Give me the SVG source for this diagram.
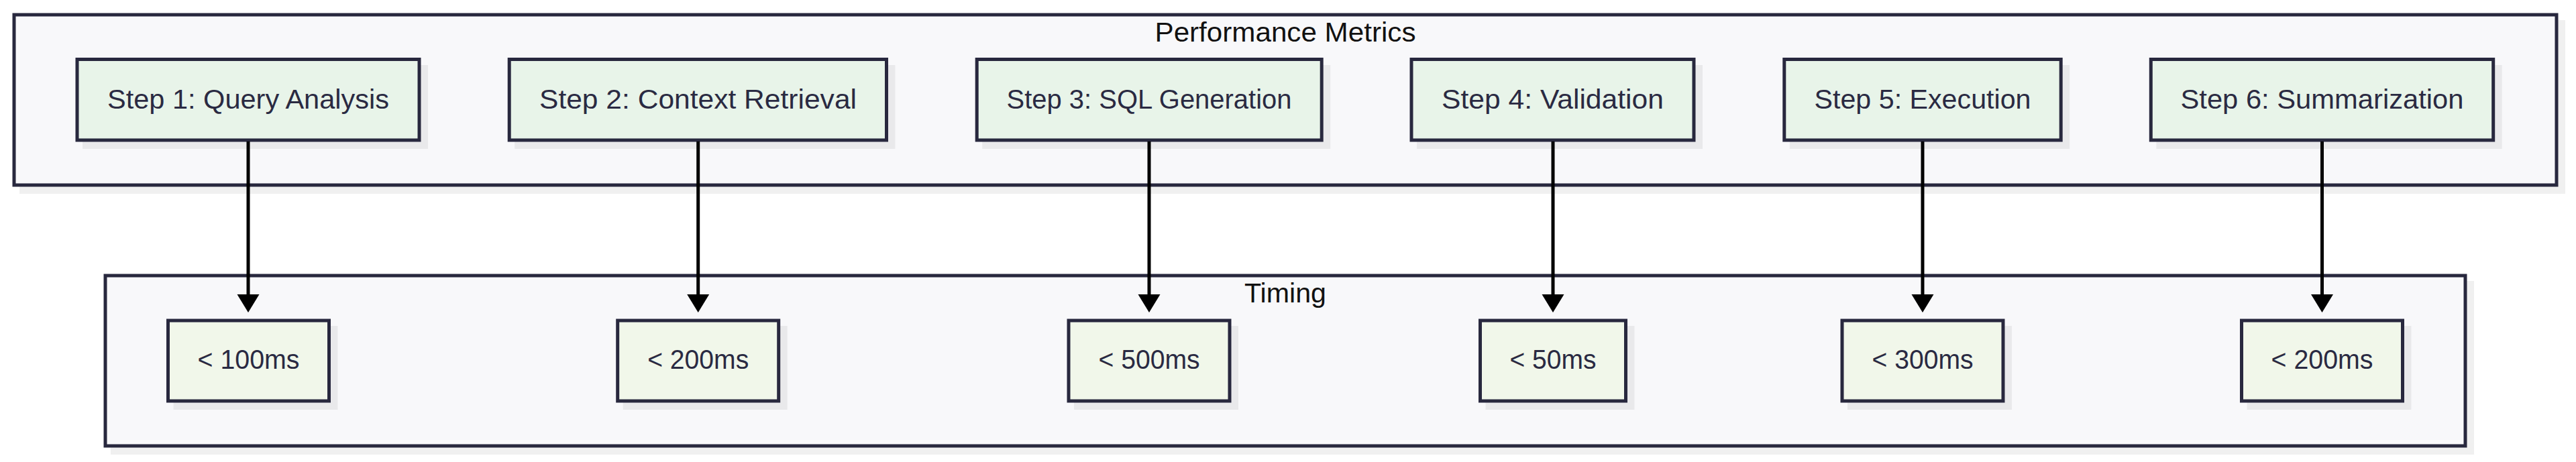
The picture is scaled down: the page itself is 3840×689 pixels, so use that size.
<svg xmlns="http://www.w3.org/2000/svg" width="3840" height="689" viewBox="0 0 3840 689">
<defs>
<style>
.cl{fill:#f8f8fa;stroke:#28283e;stroke-width:5}
.sh{fill:#000;fill-opacity:0.06}
.n1{fill:#e8f4e9;stroke:#28283e;stroke-width:5}
.n2{fill:#f1f7ea;stroke:#28283e;stroke-width:5}
.t{font-family:"Liberation Sans",Arial,sans-serif;font-size:40px;fill:#2a2a42;text-anchor:middle}
.ttl{font-family:"Liberation Sans",Arial,sans-serif;font-size:40px;fill:#111;text-anchor:middle}
.e{stroke:#000;stroke-width:5;fill:none}
.ah{fill:#000}
</style>
</defs>
<rect width="3840" height="689" fill="#fff"/>
<g id="cluster-performance">
<rect class="sh" x="29" y="30" width="3795" height="259"/>
<rect class="cl" x="21" y="22" width="3790" height="254"/>
<text class="ttl" x="1916" y="62" textLength="389" lengthAdjust="spacingAndGlyphs">Performance Metrics</text>
</g>
<g id="cluster-timing">
<rect class="sh" x="165" y="419" width="3523" height="259"/>
<rect class="cl" x="157" y="411" width="3518" height="254"/>
<text class="ttl" x="1916" y="451" textLength="122" lengthAdjust="spacingAndGlyphs">Timing</text>
</g>
<g id="step1">
<rect class="sh" x="123" y="97" width="515" height="125"/>
<rect class="n1" x="115" y="88.5" width="510" height="120.5"/>
<text class="t" x="370" y="162" textLength="420" lengthAdjust="spacingAndGlyphs">Step 1: Query Analysis</text>
</g>
<g id="step2">
<rect class="sh" x="767.2" y="97" width="567.3" height="125"/>
<rect class="n1" x="759.2" y="88.5" width="562.3" height="120.5"/>
<text class="t" x="1040.5" y="162" textLength="473" lengthAdjust="spacingAndGlyphs">Step 2: Context Retrieval</text>
</g>
<g id="step3">
<rect class="sh" x="1464.2" y="97" width="519" height="125"/>
<rect class="n1" x="1456.2" y="88.5" width="514" height="120.5"/>
<text class="t" x="1713" y="162" textLength="425" lengthAdjust="spacingAndGlyphs">Step 3: SQL Generation</text>
</g>
<g id="step4">
<rect class="sh" x="2112" y="97" width="426" height="125"/>
<rect class="n1" x="2104" y="88.5" width="421" height="120.5"/>
<text class="t" x="2314.5" y="162" textLength="331" lengthAdjust="spacingAndGlyphs">Step 4: Validation</text>
</g>
<g id="step5">
<rect class="sh" x="2667.8" y="97" width="417.4" height="125"/>
<rect class="n1" x="2659.8" y="88.5" width="412.4" height="120.5"/>
<text class="t" x="2866" y="162" textLength="323" lengthAdjust="spacingAndGlyphs">Step 5: Execution</text>
</g>
<g id="step6">
<rect class="sh" x="3214.3" y="97" width="515.4" height="125"/>
<rect class="n1" x="3206.3" y="88.5" width="510.4" height="120.5"/>
<text class="t" x="3461.5" y="162" textLength="422" lengthAdjust="spacingAndGlyphs">Step 6: Summarization</text>
</g>
<g id="time1">
<rect class="sh" x="258.5" y="486" width="245" height="125"/>
<rect class="n2" x="250.5" y="478" width="240" height="120"/>
<text class="t" x="370.5" y="550" textLength="152" lengthAdjust="spacingAndGlyphs">&lt; 100ms</text>
</g>
<g id="time2">
<rect class="sh" x="928.7" y="486" width="245" height="125"/>
<rect class="n2" x="920.7" y="478" width="240" height="120"/>
<text class="t" x="1040.7" y="550" textLength="151" lengthAdjust="spacingAndGlyphs">&lt; 200ms</text>
</g>
<g id="time3">
<rect class="sh" x="1601" y="486" width="245" height="125"/>
<rect class="n2" x="1593" y="478" width="240" height="120"/>
<text class="t" x="1713" y="550" textLength="151" lengthAdjust="spacingAndGlyphs">&lt; 500ms</text>
</g>
<g id="time4">
<rect class="sh" x="2214.5" y="486" width="222" height="125"/>
<rect class="n2" x="2206.5" y="478" width="217" height="120"/>
<text class="t" x="2315" y="550" textLength="129" lengthAdjust="spacingAndGlyphs">&lt; 50ms</text>
</g>
<g id="time5">
<rect class="sh" x="2754" y="486" width="245" height="125"/>
<rect class="n2" x="2746" y="478" width="240" height="120"/>
<text class="t" x="2866" y="550" textLength="151" lengthAdjust="spacingAndGlyphs">&lt; 300ms</text>
</g>
<g id="time6">
<rect class="sh" x="3349.5" y="486" width="245" height="125"/>
<rect class="n2" x="3341.5" y="478" width="240" height="120"/>
<text class="t" x="3461.5" y="550" textLength="152" lengthAdjust="spacingAndGlyphs">&lt; 200ms</text>
</g>
<g id="connectors">
<path class="e" d="M370,211V441"/>
<polygon class="ah" points="353.5,439 386.5,439 370,466"/>
<path class="e" d="M1040.7,211V441"/>
<polygon class="ah" points="1024.2,439 1057.2,439 1040.7,466"/>
<path class="e" d="M1713,211V441"/>
<polygon class="ah" points="1696.5,439 1729.5,439 1713,466"/>
<path class="e" d="M2315,211V441"/>
<polygon class="ah" points="2298.5,439 2331.5,439 2315,466"/>
<path class="e" d="M2866,211V441"/>
<polygon class="ah" points="2849.5,439 2882.5,439 2866,466"/>
<path class="e" d="M3461.5,211V441"/>
<polygon class="ah" points="3445,439 3478,439 3461.5,466"/>
</g>
</svg>
